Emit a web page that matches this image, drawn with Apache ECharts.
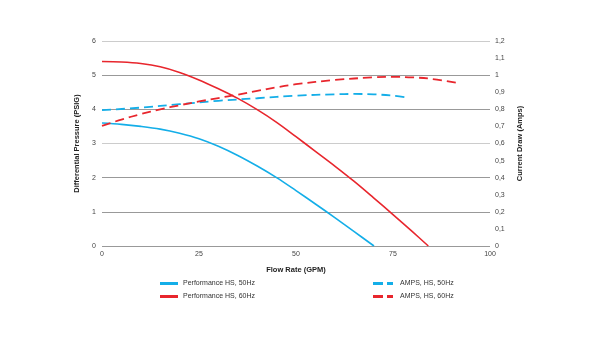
<!DOCTYPE html>
<html>
<head>
<meta charset="utf-8">
<script src="https://cdn.jsdelivr.net/npm/echarts@6/dist/echarts.min.js"></script>
<style>
  html, body { margin: 0; padding: 0; background: #fff; }
  #chart { width: 600px; height: 338px; }
</style>
</head>
<body>
<div id="chart"></div>
<script>
// Pump curves: flow rate (GPM) against pressure (PSIG) and current draw (Amps)
const perf50 = [[0,3.6],[5,3.56],[10,3.5],[15,3.42],[20,3.3],[25,3.14],[30,2.92],[35,2.65],[40,2.34],[45,2.0],[50,1.62],[55,1.23],[60,0.83],[65,0.42],[70.1,0]];
const perf60 = [[0,5.4],[5,5.385],[10,5.34],[15,5.245],[20,5.08],[25,4.86],[30,4.6],[35,4.32],[40,3.99],[45,3.62],[50,3.2],[55,2.77],[60,2.34],[65,1.89],[70,1.41],[75,0.92],[80,0.42],[84.1,0]];
const amps50 = [[0,0.795],[10,0.81],[20,0.83],[30,0.85],[40,0.865],[50,0.88],[60,0.888],[65,0.89],[70,0.888],[75,0.88],[78.4,0.87]];
const amps60 = [[0,0.703],[5,0.74],[10,0.772],[15,0.8],[20,0.824],[25,0.846],[30,0.866],[35,0.886],[40,0.908],[45,0.929],[50,0.947],[60,0.972],[70,0.987],[75,0.99],[80,0.987],[85,0.978],[91.6,0.954]];

const seriesNames = ['Performance HS, 50Hz', 'Performance HS, 60Hz', 'AMPS, HS, 50Hz', 'AMPS, HS, 60Hz'];
const BLUE = '#14aee8';
const RED = '#e8262d';
const FONT = '"Liberation Sans", Arial, sans-serif';

const chart = echarts.init(document.getElementById('chart'));

const labelStyle = { fontFamily: FONT, fontSize: 7, color: '#444' };
const nameStyle = { fontFamily: FONT, fontSize: 7.5, color: '#222', fontWeight: 'bold' };

function line(name, data, color, dashed, yIndex) {
  return {
    name, type: 'line', data, yAxisIndex: yIndex,
    smooth: 0.35, showSymbol: false, symbol: 'none',
    lineStyle: { color, width: dashed ? 1.8 : 1.6, type: dashed ? [9, 5] : 'solid' },
    itemStyle: { color },
    emphasis: { disabled: true },
    z: dashed ? 3 : 2
  };
}

chart.setOption({
  animation: false,
  grid: { left: 102, right: 110, top: 41, bottom: 92 },
  legend: [
    {
      data: seriesNames.slice(0, 2), orient: 'vertical', left: 155, top: 275, itemGap: 6,
      itemWidth: 18, itemHeight: 8, icon: 'path://M0,0H18V3H0Z',
      textStyle: { fontFamily: FONT, fontSize: 7, color: '#333', padding: [0, 0, 0, 0] }
    },
    {
      data: seriesNames.slice(2), orient: 'vertical', left: 368, top: 275, itemGap: 6,
      itemWidth: 20, itemHeight: 8, icon: 'path://M0,0H10V3H0ZM14,0H20V3H14Z',
      textStyle: { fontFamily: FONT, fontSize: 7, color: '#333', padding: [0, 0, 0, 2] }
    }
  ],
  xAxis: {
    type: 'value', min: 0, max: 100, interval: 25,
    name: 'Flow Rate (GPM)', nameLocation: 'middle', nameGap: 20, nameTextStyle: nameStyle,
    axisLine: { show: false }, axisTick: { show: false }, splitLine: { show: false },
    axisLabel: Object.assign({ margin: 5 }, labelStyle)
  },
  yAxis: [
    {
      type: 'value', min: 0, max: 6, interval: 1,
      name: 'Differential Pressure (PSIG)', nameLocation: 'middle', nameGap: 16, nameRotate: 90,
      nameTextStyle: nameStyle,
      axisLine: { show: false }, axisTick: { show: false },
      axisLabel: Object.assign({ margin: 6 }, labelStyle),
      splitLine: { lineStyle: { color: ['#999', '#999', '#999', '#ccc', '#999', '#999', '#ccc'], width: 1 } }
    },
    {
      type: 'value', min: 0, max: 1.2, interval: 0.1, position: 'right',
      name: 'Current Draw (Amps)', nameLocation: 'middle', nameGap: 24, nameRotate: 90,
      nameTextStyle: nameStyle,
      axisLine: { show: false }, axisTick: { show: false }, splitLine: { show: false },
      axisLabel: Object.assign({ margin: 5, formatter: v => String(Math.round(v * 10) / 10).replace('.', ',') }, labelStyle)
    }
  ],
  series: [
    line(seriesNames[0], perf50, BLUE, false, 0),
    line(seriesNames[1], perf60, RED, false, 0),
    line(seriesNames[2], amps50, BLUE, true, 1),
    line(seriesNames[3], amps60, RED, true, 1)
  ]
});
</script>
</body>
</html>
